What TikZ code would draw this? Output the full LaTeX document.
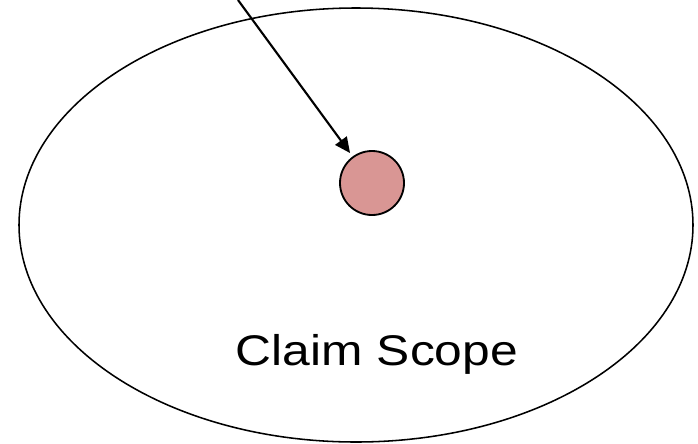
\documentclass[tikz,border=0pt]{standalone}
\usepackage{fontspec}
\setmainfont{Liberation Sans}
\usetikzlibrary{shapes.geometric, arrows.meta}
\definecolor{claimred}{HTML}{D99694}

\begin{document}
\begin{tikzpicture}[x=0.025cm, y=-0.025cm, >={Triangle[length=11pt, width=10pt]}]
    \useasboundingbox (0,0) rectangle (698,443);
    % Scope
    \node[ellipse, draw, line width=1.1pt, minimum width=674*0.025cm, minimum height=434*0.025cm, inner sep=0pt] (scope) at (356,225) {};
    \node[anchor=base] (label) at (377,365) {\fontsize{30.5}{36}\selectfont\scalebox{1.16}[1]{Claim Scope}};
    % Claim
    \node[circle, draw, fill=claimred, line width=1.3pt, minimum size=64*0.025cm, inner sep=0pt] (claim) at (372,183) {};
    \coordinate (src) at (238,0);
    
    \draw[->, line width=1.5pt, shorten >=3pt] (src) -- (claim);
\end{tikzpicture}
\end{document}
